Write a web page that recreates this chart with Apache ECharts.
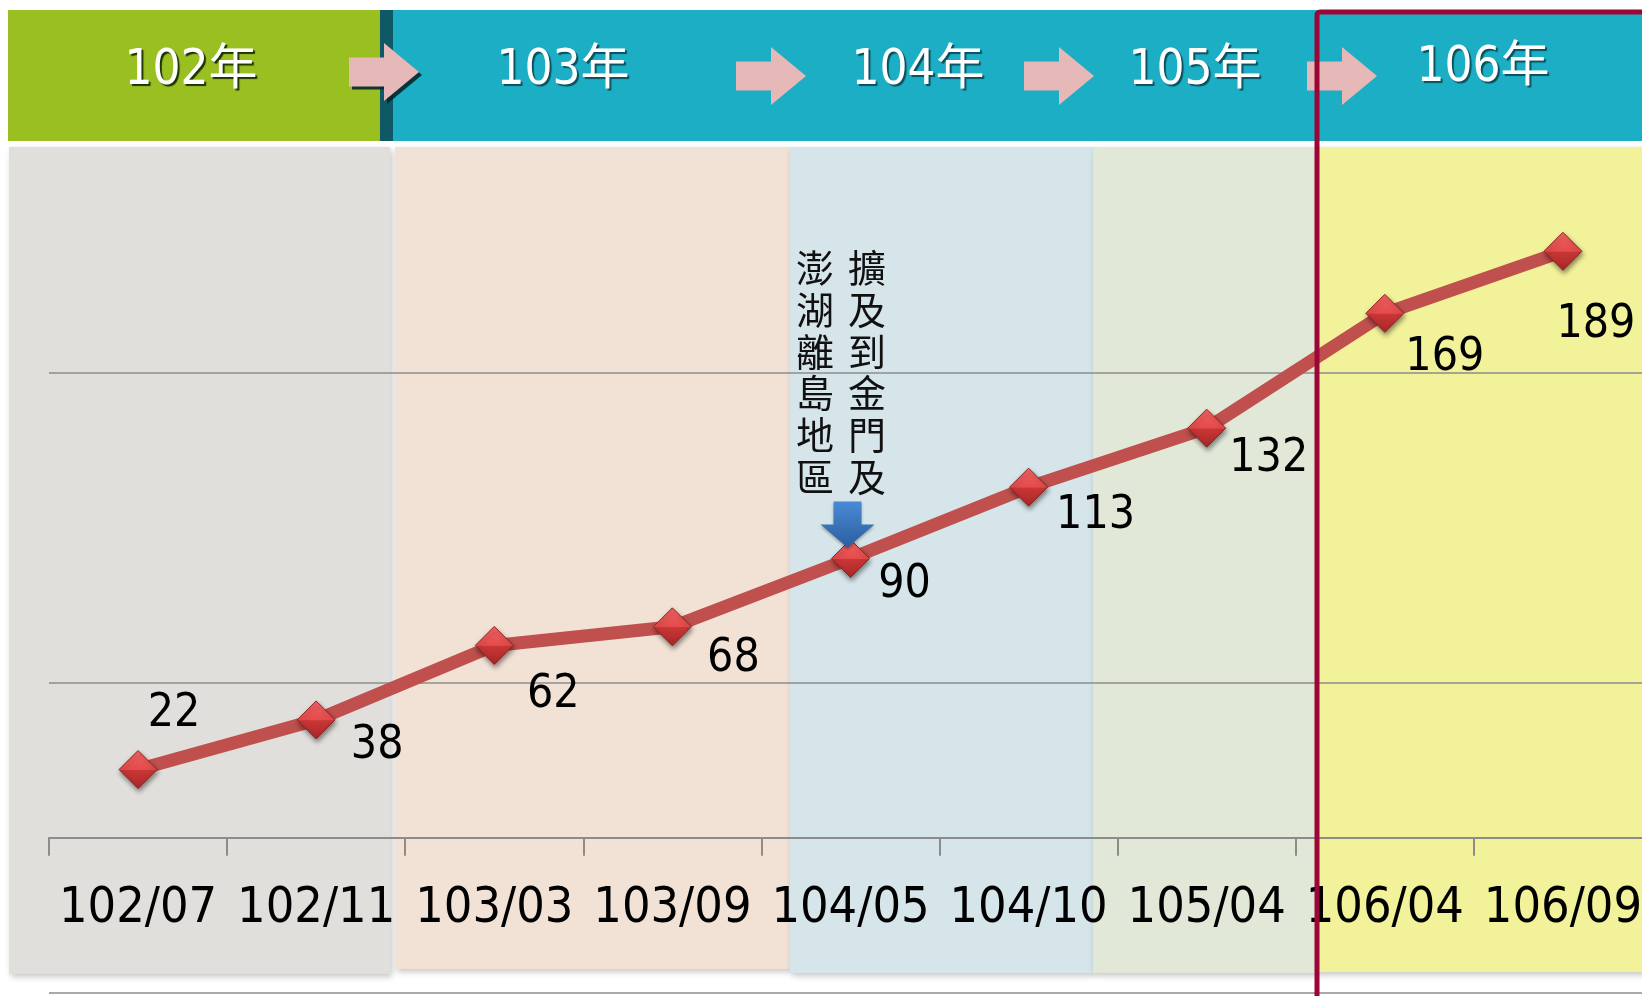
<html>

<head>
    <meta charset="utf-8">
    <script src="https://cdn.jsdelivr.net/npm/echarts@6/dist/echarts.min.js"></script>
    <style>
        html, body {
            margin: 0;
            padding: 0;
            background: #fff;
        }
        #main {
            width: 1642px;
            height: 996px;
        }
    </style>
</head>

<body>
    <div id="main"></div>
    <script>
        // 資料
        var categories = ['102/07', '102/11', '103/03', '103/09', '104/05', '104/10', '105/04', '106/04', '106/09'];
        var values = [22, 38, 62, 68, 90, 113, 132, 169, 189];
        var years = ['102年', '103年', '104年', '105年', '106年'];
        var noteLines = ['擴及到金門及', '澎湖離島地區'];   // 右欄先讀
        var noteIndex = 4;  // 104/05

        // 標籤位置 (相對於資料點)
        var labelOffsets = [[36, -56], [61, 26], [59, 50], [61, 32], [54, 27], [67, 29], [62, 31], [60, 45], [33, 74]];

        var numFont = '"DejaVu Sans Condensed", "Liberation Sans Narrow", "DejaVu Sans", sans-serif';
        var cjkFont = '"Noto Sans CJK TC", "Noto Sans CJK SC", sans-serif';

        // 背景色塊
        var bands = [
            { x: 9, w: 381, bottom: 974, color: '#E0DFDB' },
            { x: 395, w: 395, bottom: 969, color: '#F2E2D5' },
            { x: 790, w: 303, bottom: 973, color: '#D5E5EA' },
            { x: 1093, w: 225, bottom: 973, color: '#E1E8D7' },
            { x: 1318, w: 330, bottom: 972, color: '#F2F29A' }
        ];
        var yearX = [191, 563, 918, 1195, 1483];
        var arrowX = [349, 736, 1024, 1307];

        var graphics = [];
        bands.forEach(function (b) {
            graphics.push({
                type: 'rect',
                z: -5,
                shape: { x: b.x, y: 147, width: b.w, height: b.bottom - 147 },
                style: {
                    fill: b.color,
                    shadowBlur: 6,
                    shadowColor: 'rgba(0,0,0,0.22)',
                    shadowOffsetX: 2,
                    shadowOffsetY: 3
                }
            });
        });

        // 上方年份列
        graphics.push({
            type: 'rect', z: 50,
            shape: { x: 393, y: 10, width: 1260, height: 131 },
            style: { fill: '#1CAEC4' }
        });
        graphics.push({
            type: 'rect', z: 50,
            shape: { x: 8, y: 10, width: 373, height: 131 },
            style: { fill: '#9ABF20' }
        });
        graphics.push({
            type: 'rect', z: 50,
            shape: { x: 380, y: 10, width: 13, height: 131 },
            style: { fill: '#0F5865' }
        });

        arrowX.forEach(function (x0, i) {
            var cy = i === 0 ? 72 : 76;
            graphics.push({
                type: 'polygon', z: 51,
                shape: {
                    points: [
                        [x0, cy - 14.5], [x0 + 35, cy - 14.5], [x0 + 35, cy - 29],
                        [x0 + 70, cy], [x0 + 35, cy + 29], [x0 + 35, cy + 14.5], [x0, cy + 14.5]
                    ]
                },
                style: {
                    fill: '#E6B8B7',
                    shadowColor: i === 0 ? 'rgba(5,40,45,0.9)' : 'rgba(0,0,0,0)',
                    shadowOffsetX: 3,
                    shadowOffsetY: 3
                }
            });
        });

        years.forEach(function (t, i) {
            graphics.push({
                type: 'text', z: 52,
                x: yearX[i],
                y: i === 4 ? 68 : 71,
                style: {
                    text: t,
                    align: 'center',
                    verticalAlign: 'middle',
                    fill: '#fff',
                    font: '49px ' + numFont.replace('sans-serif', '') + cjkFont,
                    textShadowColor: i === 0 ? 'rgba(20,45,0,0.95)' : 'rgba(0,40,50,0.7)',
                    textShadowBlur: 1,
                    textShadowOffsetX: 2,
                    textShadowOffsetY: 2
                }
            });
        });

        // 直書註解
        var noteX = [867, 815];
        noteLines.forEach(function (t, i) {
            graphics.push({
                type: 'text', z: 20,
                x: noteX[i],
                y: 247,
                style: {
                    text: t.split('').join('\n'),
                    align: 'center',
                    verticalAlign: 'top',
                    fill: '#111',
                    font: '38px ' + cjkFont,
                    lineHeight: 41.7
                }
            });
        });

        // 右側紅框
        graphics.push({
            type: 'rect', z: 100,
            shape: { x: 1317, y: 12, width: 400, height: 1010, r: 3 },
            style: { fill: 'none', stroke: '#9C0636', lineWidth: 5 }
        });

        var myChart = echarts.init(document.getElementById('main'));
        var option = {
            animation: false,
            backgroundColor: '#fff',
            grid: {
                left: 49,
                right: -10,
                top: 62,
                bottom: 3,
                containLabel: false,
                outerBoundsMode: 'none'
            },
            xAxis: {
                type: 'category',
                data: categories,
                boundaryGap: true,
                axisLine: {
                    show: true,
                    onZero: false,
                    lineStyle: { color: '#8C8C8C', width: 2 }
                },
                axisTick: {
                    show: true,
                    inside: false,
                    interval: 0,
                    alignWithLabel: false,
                    length: 18,
                    lineStyle: { color: '#8C8C8C', width: 2 }
                },
                axisLabel: {
                    margin: 46,
                    color: '#000',
                    fontSize: 50,
                    fontFamily: numFont,
                    interval: 0,
                    hideOverlap: false
                },
                splitLine: { show: false }
            },
            yAxis: {
                type: 'value',
                min: -50,
                max: 250,
                interval: 100,
                axisLine: { show: false },
                axisTick: { show: false },
                axisLabel: { show: false },
                splitLine: {
                    lineStyle: { color: '#8C8C8C', width: 1.5 }
                }
            },
            series: [{
                type: 'line',
                data: values,
                z: 5,
                symbol: 'diamond',
                symbolSize: 38,
                lineStyle: { color: '#C0504D', width: 13 },
                itemStyle: {
                    color: {
                        type: 'linear', x: 0, y: 0, x2: 0, y2: 1,
                        colorStops: [
                            { offset: 0, color: '#F56464' },
                            { offset: 0.5, color: '#E44B4B' },
                            { offset: 0.52, color: '#C93636' },
                            { offset: 1, color: '#A92727' }
                        ]
                    },
                    borderColor: '#8E2323',
                    borderWidth: 1,
                    shadowBlur: 5,
                    shadowColor: 'rgba(0,0,0,0.45)',
                    shadowOffsetX: 1,
                    shadowOffsetY: 3
                },
                label: {
                    show: true,
                    position: 'inside',
                    color: '#000',
                    fontSize: 46,
                    fontFamily: numFont,
                    formatter: function (p) {
                        return p.value;
                    }
                },
                labelLayout: function (p) {
                    var o = labelOffsets[p.dataIndex];
                    return { dx: o[0], dy: o[1] };
                }
            }],
            graphic: graphics
        };

        myChart.setOption(option);

        // x 軸移到 0 的位置
        var yZero = myChart.convertToPixel({ gridIndex: 0 }, [0, 0])[1];
        var yMin = myChart.convertToPixel({ gridIndex: 0 }, [0, -50])[1];

        // 藍色箭頭指向 104/05 資料點
        var pt = myChart.convertToPixel({ gridIndex: 0 }, [noteIndex, values[noteIndex]]);
        var ax = pt[0] - 3, tip = pt[1] - 11;
        graphics.push({
            type: 'polygon', z: 20,
            shape: {
                points: [
                    [ax - 14, tip - 46], [ax + 14, tip - 46], [ax + 14, tip - 23], [ax + 27, tip - 23],
                    [ax, tip], [ax - 27, tip - 23], [ax - 14, tip - 23]
                ]
            },
            style: {
                fill: {
                    type: 'linear', x: 0, y: 0, x2: 0, y2: 1,
                    colorStops: [
                        { offset: 0, color: '#4A8AD6' },
                        { offset: 1, color: '#2B5E9E' }
                    ]
                },
                shadowBlur: 3,
                shadowColor: 'rgba(0,0,0,0.3)',
                shadowOffsetY: 2
            }
        });
        myChart.setOption({
            xAxis: { offset: yZero - yMin },
            graphic: graphics
        });

        window.onresize = myChart.resize;
    </script>
</body>

</html>
